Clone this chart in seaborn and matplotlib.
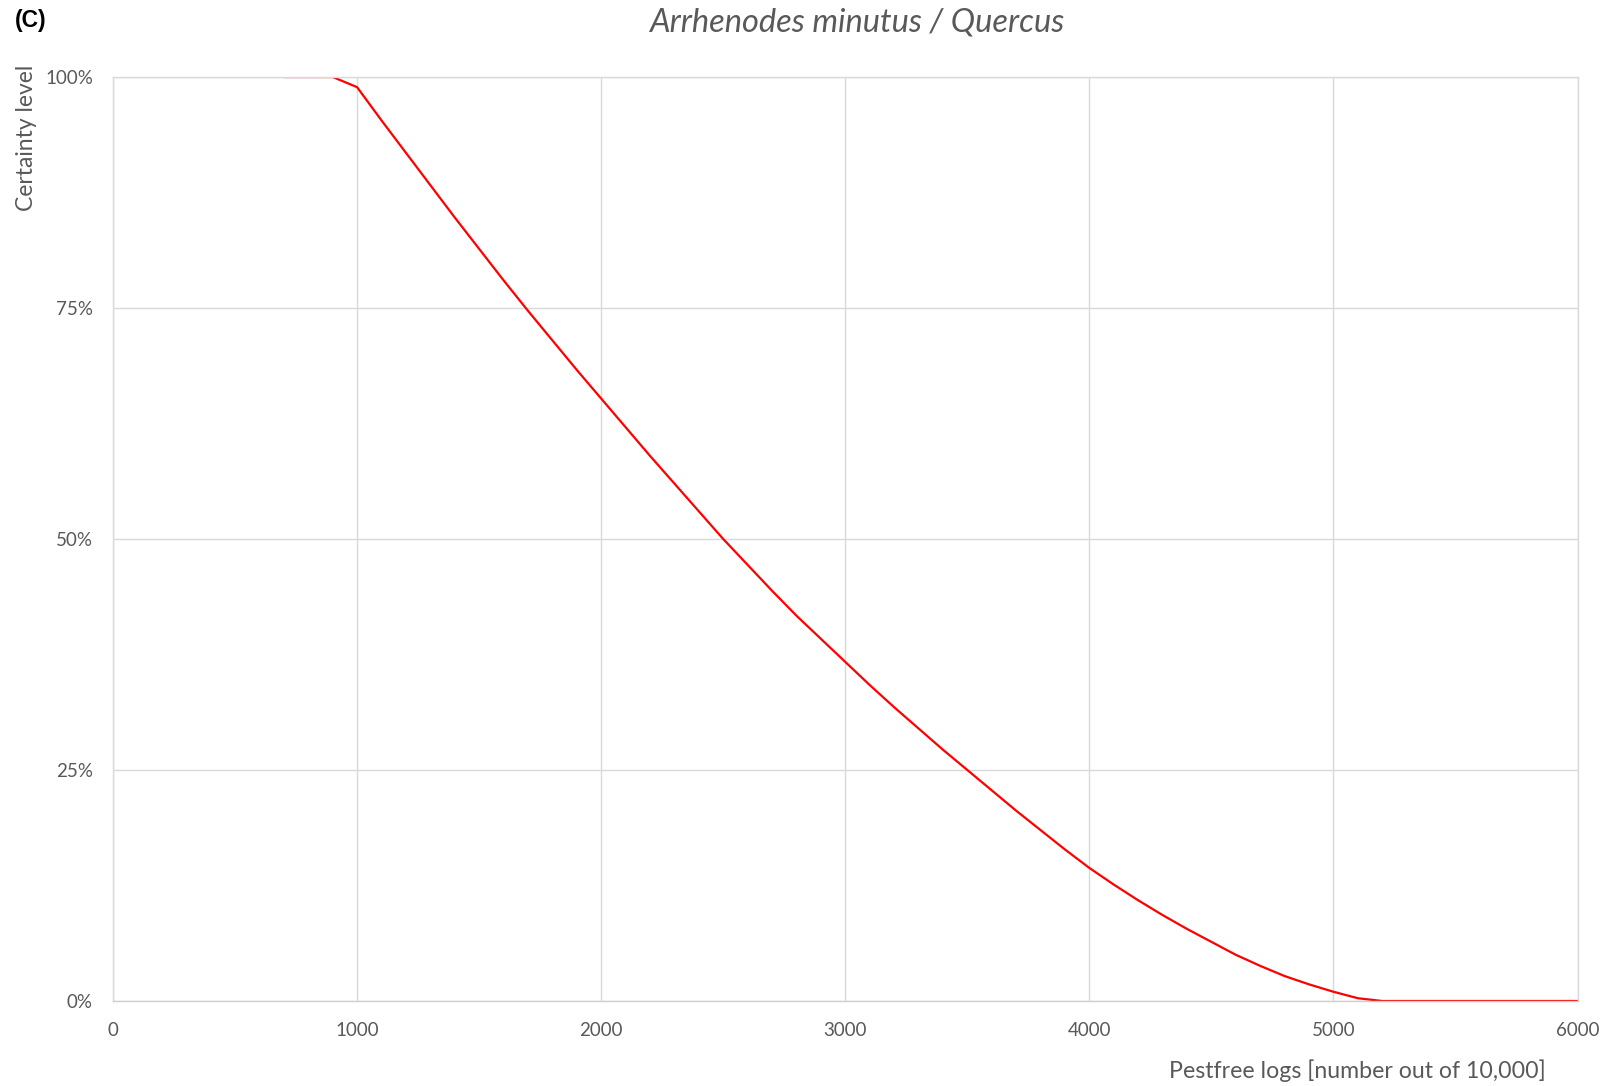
import matplotlib
matplotlib.use("Agg")
import matplotlib.pyplot as plt
import seaborn as sns
import pandas as pd
from matplotlib.ticker import FuncFormatter

# Data
pestfree_logs = [700, 800, 900, 1000, 1100, 1200, 1300, 1400, 1500, 1600, 1700, 1800, 1900,
                 2000, 2100, 2200, 2300, 2400, 2500, 2600, 2700, 2800, 2900,
                 3000, 3100, 3200, 3300, 3400, 3500, 3600, 3700, 3800, 3900,
                 4000, 4100, 4200, 4300, 4400, 4500, 4600, 4700, 4800, 4900,
                 5000, 5100, 5200, 6000]
certainty = [1.000, 1.000, 1.000, 0.989, 0.953, 0.918, 0.883, 0.848, 0.814, 0.780, 0.747, 0.715, 0.683,
             0.652, 0.621, 0.590, 0.560, 0.530, 0.500, 0.472, 0.444, 0.417, 0.392,
             0.367, 0.342, 0.318, 0.295, 0.272, 0.250, 0.228, 0.206, 0.185, 0.164,
             0.144, 0.126, 0.109, 0.093, 0.078, 0.064, 0.050, 0.038, 0.027, 0.018,
             0.010, 0.003, 0.000, 0.000]
x_ticks = [0, 1000, 2000, 3000, 4000, 5000, 6000]
y_ticks = [0, 0.25, 0.5, 0.75, 1.0]

title_text = "Arrhenodes minutus / Quercus"
panel_label = "(C)"
x_label = "Pestfree logs [number out of 10,000]"
y_label = "Certainty level"

sns.set_theme(style="white")
plt.rcParams['font.family'] = ['Lato', 'DejaVu Sans']

df = pd.DataFrame({"x": pestfree_logs, "y": certainty})

fig = plt.figure(figsize=(16.03, 10.86), dpi=100)
ax = fig.add_axes([113/1603, 1 - 1001/1086, (1577.5 - 113)/1603, (1001 - 77)/1086])

grey = "#595959"
gridc = "#d9d9d9"

sns.lineplot(data=df, x="x", y="y", ax=ax, color="#ff0000", linewidth=1.6)

ax.set_xlim(0, 6000)
ax.set_ylim(0, 1.0)
ax.set_xticks(x_ticks)
ax.set_yticks(y_ticks)
ax.yaxis.set_major_formatter(FuncFormatter(lambda v, p: f"{v*100:.0f}%"))
ax.grid(True, color=gridc, linewidth=1.0)
ax.set_axisbelow(True)
for s in ax.spines.values():
    s.set_color(gridc)
    s.set_linewidth(1.0)
ax.spines['bottom'].set_color("#cfcfcf")
ax.tick_params(axis='both', length=0, labelsize=13.5, labelcolor=grey)
ax.tick_params(axis='x', pad=15)
ax.tick_params(axis='y', pad=14.5)
ax.set_xlabel("")
ax.set_ylabel("")

fig.text(1546/1603, 1 - 1071/1086, x_label, ha="right", va="center",
         fontsize=16.7, color=grey)
fig.text(27/1603, 1 - 138/1086, y_label, ha="center", va="center",
         rotation=90, fontsize=16.5, color=grey)
fig.text(857/1603, 1 - 22/1086, title_text, ha="center", va="center",
         fontsize=23.5, color=grey, style="italic")
fig.text(15/1603, 1 - 20/1086, panel_label, ha="left", va="center",
         fontsize=16.5, fontweight="bold", color="black",
         family=["Liberation Sans", "DejaVu Sans"])

fig.savefig("out.png", dpi=100, facecolor="white")
